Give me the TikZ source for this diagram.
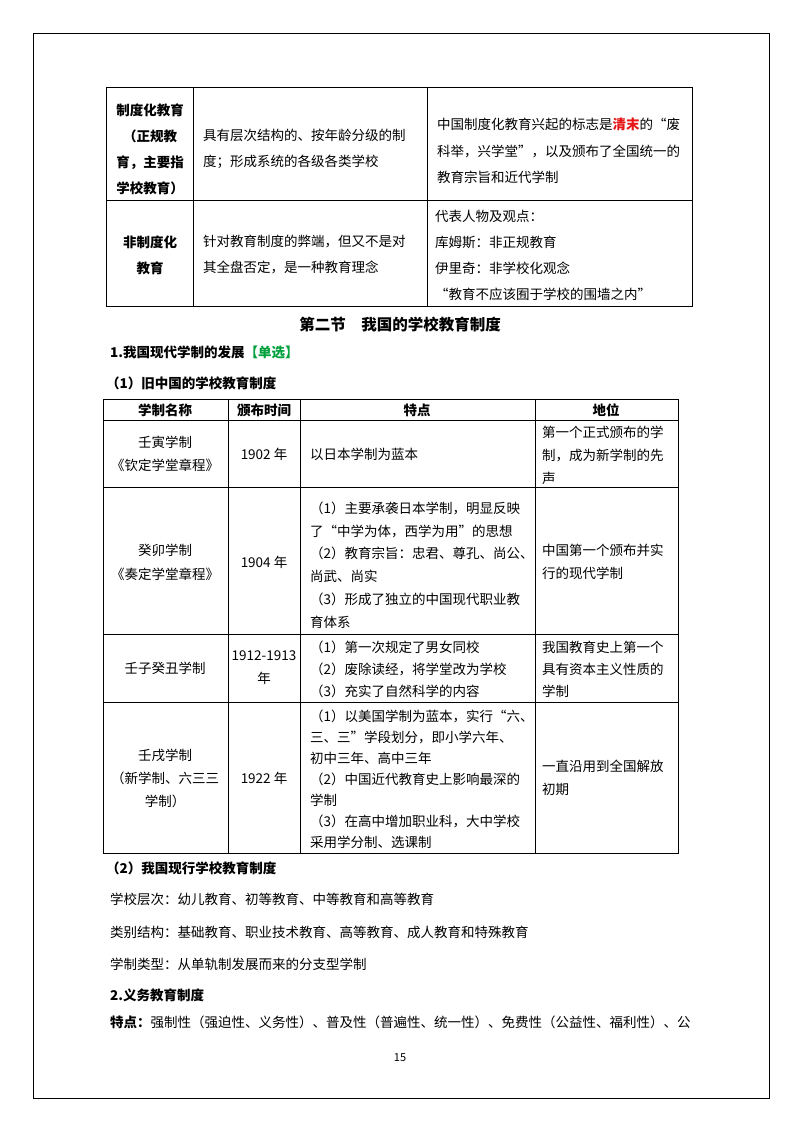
\documentclass[tikz,border=0pt]{standalone}
\usepackage{fontspec}
\setmainfont{Noto Sans CJK SC}
\definecolor{redk}{RGB}{230,20,20}
\definecolor{greenk}{RGB}{0,160,60}
\newcommand{\TL}[6]{\node[tx,anchor=#1,font=\fontsize{13.5}{#5}\selectfont,align=#6] (#2) at #3 {#4};}
\begin{document}
\begin{tikzpicture}[x=1pt,y=-1pt,tx/.style={inner sep=0pt},rule/.style={line width=0.8pt}]
\useasboundingbox (0,0) rectangle (800,1132);
\draw[line width=0.8pt] (33,33) rectangle (769,1098);
% top table
\draw[rule] (106,87) rectangle (692,306);
\draw[rule] (106,200) -- (692,200);
\draw[rule] (193,87) -- (193,306);
\draw[rule] (427,87) -- (427,306);
\TL{center}{a1}{(150,149)}{\bfseries 制度化教育\\\bfseries （正规教\\\bfseries 育，主要指\\\bfseries 学校教育）}{26}{center}
\TL{west}{a2}{(203,149)}{具有层次结构的、按年龄分级的制\\度；形成系统的各级各类学校}{26}{left}
\TL{west}{a3}{(437,151)}{中国制度化教育兴起的标志是{\bfseries\color{redk}清末}的“废\\科举，兴学堂”，以及颁布了全国统一的\\教育宗旨和近代学制}{26.5}{left}
\TL{center}{b1}{(150,255)}{\bfseries 非制度化\\\bfseries 教育}{26}{center}
\TL{west}{b2}{(203,255)}{针对教育制度的弊端，但又不是对\\其全盘否定，是一种教育理念}{26}{left}
\TL{west}{b3}{(435,255)}{代表人物及观点：\\库姆斯：非正规教育\\伊里奇：非学校化观念\\“教育不应该囿于学校的围墙之内”}{26}{left}
% headings
\node[tx,font=\fontsize{15.5}{20}\selectfont\bfseries] (h1) at (400,325) {第二节\quad 我国的学校教育制度};
\TL{west}{h2}{(110,352)}{\bfseries 1.我国现代学制的发展{\color{greenk}【单选】}}{20}{left}
\TL{west}{h3}{(106,383)}{\bfseries （1）旧中国的学校教育制度}{20}{left}
% second table
\draw[rule] (103,399) rectangle (678,853);
\foreach \yy in {420,487,634,702} \draw[rule] (103,\yy) -- (678,\yy);
\foreach \xx in {228,300,535} \draw[rule] (\xx,399) -- (\xx,853);
\TL{center}{c1}{(165,410)}{\bfseries 学制名称}{20}{center}
\TL{center}{c2}{(264,410)}{\bfseries 颁布时间}{20}{center}
\TL{center}{c3}{(417,410)}{\bfseries 特点}{20}{center}
\TL{center}{c4}{(606,410)}{\bfseries 地位}{20}{center}
\TL{center}{d1}{(165,454)}{壬寅学制\\《钦定学堂章程》}{23}{center}
\TL{center}{d2}{(264,454)}{1902 年}{23}{center}
\TL{west}{d3}{(310,454)}{以日本学制为蓝本}{23}{left}
\TL{west}{d4}{(542,455)}{第一个正式颁布的学\\制，成为新学制的先\\声}{23}{left}
\TL{center}{e1}{(165,562)}{癸卯学制\\《奏定学堂章程》}{24}{center}
\TL{center}{e2}{(264,562)}{1904 年}{23}{center}
\TL{west}{e3}{(310,565)}{（1）主要承袭日本学制，明显反映\\了“中学为体，西学为用”的思想\\（2）教育宗旨：忠君、尊孔、尚公、\\尚武、尚实\\（3）形成了独立的中国现代职业教\\育体系}{22.8}{left}
\TL{west}{e4}{(542,562)}{中国第一个颁布并实\\行的现代学制}{23}{left}
\TL{center}{f1}{(165,668)}{壬子癸丑学制}{23}{center}
\TL{center}{f2}{(264,668)}{1912-1913\\年}{23}{center}
\TL{west}{f3}{(310,669)}{（1）第一次规定了男女同校\\（2）废除读经，将学堂改为学校\\（3）充实了自然科学的内容}{22}{left}
\TL{west}{f4}{(542,669)}{我国教育史上第一个\\具有资本主义性质的\\学制}{22}{left}
\TL{center}{g1}{(165,778)}{壬戌学制\\（新学制、六三三\\学制）}{23}{center}
\TL{center}{g2}{(264,778)}{1922 年}{23}{center}
\TL{west}{g3}{(310,779)}{（1）以美国学制为蓝本，实行“六、\\三、三”学段划分，即小学六年、\\初中三年、高中三年\\（2）中国近代教育史上影响最深的\\学制\\（3）在高中增加职业科，大中学校\\采用学分制、选课制}{21}{left}
\TL{west}{g4}{(542,778)}{一直沿用到全国解放\\初期}{23}{left}
% below
\TL{west}{i1}{(106,868)}{\bfseries （2）我国现行学校教育制度}{20}{left}
\TL{west}{i2}{(110,899)}{学校层次：幼儿教育、初等教育、中等教育和高等教育}{20}{left}
\TL{west}{i3}{(110,932)}{类别结构：基础教育、职业技术教育、高等教育、成人教育和特殊教育}{20}{left}
\TL{west}{i4}{(110,964)}{学制类型：从单轨制发展而来的分支型学制}{20}{left}
\TL{west}{i5}{(110,995)}{\bfseries 2.义务教育制度}{20}{left}
\TL{west}{i6}{(110,1022)}{{\bfseries 特点：}强制性（强迫性、义务性）、普及性（普遍性、统一性）、免费性（公益性、福利性）、公}{20}{left}
\TL{center}{pg}{(400,1058)}{\fontsize{11}{12}\selectfont 15}{12}{center}
\end{tikzpicture}
\end{document}
